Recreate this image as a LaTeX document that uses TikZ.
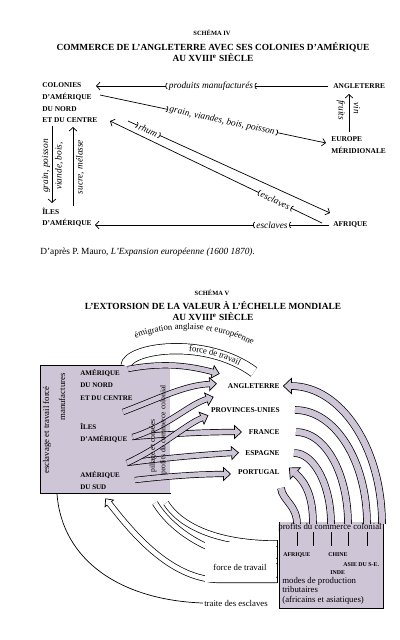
\documentclass[tikz,border=0pt]{standalone}
\usepackage{fontspec}
\setmainfont{Liberation Serif}
\usetikzlibrary{arrows.meta, positioning, calc, decorations.markings, decorations.text}

\definecolor{trame}{RGB}{206,197,214}
\newcommand\capfont{\fontsize{6.3}{10}\selectfont\bfseries}
\newcommand\zonefont{\fontsize{6}{10.6}\selectfont\bfseries}
\newcommand\minifont{\fontsize{5}{6}\selectfont\bfseries}
\newcommand\flowfont{\fontsize{8}{9}\selectfont\itshape}
\newcommand\plainfont{\fontsize{7.5}{8}\selectfont}
\newcommand\narrowfont{\fontsize{6.5}{7}\selectfont}
\newcommand\titlefont{\fontsize{8}{9.4}\selectfont\bfseries}
\newcommand\schemafont{\fontsize{5.5}{6}\selectfont\bfseries}

\tikzset{
  fatarr/.style n args={4}{line width=#2, draw=black,
    postaction={draw=#1, line width=#3},
    postaction={decorate, decoration={markings, mark=at position 1 with {
      \filldraw[fill=#1, draw=black, line width=0.6pt, line join=miter]
        (-0.4pt,-#4) -- (#4,0) -- (-0.4pt,#4) -- cycle;
      \fill[#1] (-1.2pt,{-0.5*#3}) rectangle (0.2pt,{0.5*#3});}}}},
}

\begin{document}
\begin{tikzpicture}[
    x=0.03cm, y=-0.03cm, line width=0.6pt,
    lab/.style={font=\capfont, inner sep=0pt, align=left},
    zlab/.style={font=\zonefont, inner sep=0pt, align=left},
    mini/.style={font=\minifont, inner sep=0pt},
    flw/.style={font=\flowfont, inner sep=1pt},
    plain/.style={font=\plainfont, inner sep=1pt},
    ttl/.style={font=\titlefont, align=center, inner sep=0pt},
    sch/.style={font=\schemafont, inner sep=0pt},
    zone/.style={fill=trame, inner sep=0pt},
    arr/.style={-{Straight Barb[length=3pt,width=6.5pt]}},
    cut/.style={-{Arc Barb[length=1.6pt,width=5.5pt]}},
    goon/.style={{Arc Barb[reversed,length=1.6pt,width=5.5pt]}-{Straight Barb[length=3pt,width=6.5pt]}},
    sarc/.style={fatarr={trame}{6.5pt}{5.3pt}{6.5pt}},
    sfan/.style={fatarr={trame}{5.3pt}{4.1pt}{5.5pt}},
    wfan/.style={fatarr={white}{5.3pt}{4.1pt}{4.6pt}},
    band/.style={fatarr={white}{9.5pt}{8.3pt}{7pt}}
  ]
  \useasboundingbox (0,0) rectangle (400,640);

  % ================= SCHEMA IV =================
  \node[sch] (s4) at (212,33) {SCHÉMA IV};
  \node[ttl] (t4) at (213,52.5) {COMMERCE DE L'ANGLETERRE AVEC SES COLONIES D'AMÉRIQUE\\AU XVIII\textsuperscript{e} SIÈCLE};

  % lieux
  \node[lab, anchor=north west] (col) at (42,82.5) {COLONIES\\D'AMÉRIQUE\\DU NORD\\ET DU CENTRE};
  \node[lab, anchor=west] (ang) at (333,86) {ANGLETERRE};
  \node[lab, anchor=north west] (eur) at (331,136.5) {EUROPE\\MÉRIDIONALE};
  \node[lab, anchor=north west] (iles) at (42,207.5) {ÎLES\\D'AMÉRIQUE};
  \node[lab, anchor=west] (afr) at (333,225) {AFRIQUE};

  % bouts de fleches
  \coordinate (colA) at (96,86);
  \coordinate (gA) at (100,95);
  \coordinate (gB) at (326,143);
  \coordinate (fvA) at (349,132);
  \coordinate (fvB) at (349,94);
  \coordinate (dnA) at (52,126);
  \coordinate (dnB) at (52,203);
  \coordinate (upA) at (73,206);
  \coordinate (upB) at (73,127);
  \coordinate (rA) at (128,121);
  \coordinate (rB) at (330,213);
  \coordinate (eA) at (322,223);
  \coordinate (eB) at (110,121);
  \coordinate (ilA) at (95,225);

  % produits manufactures
  \node[flw] (pm) at (211,86) {produits manufacturés};
  \draw[cut, shorten <=4pt] (ang.west) -- (pm.east);
  \draw[goon] (pm.west) -- (colA);

  % grain, viandes...
  \path (gA) -- (gB) node[flw, sloped, pos=0.54] (gr) {grain, viandes, bois, poisson};
  \draw[cut] (gA) -- (gr.west);
  \draw[goon] (gr.east) -- (gB);

  % fruits, vin
  \draw[arr] (fvA) -- (fvB);
  \node[flw, rotate=-90] (fr) at (341,110) {fruits};
  \node[flw, rotate=-90] (vi) at (357,108) {vin};

  % colonies <-> iles
  \draw[arr] (dnA) -- (dnB);
  \node[flw, rotate=90] (gp) at (46,166) {grain, poisson};
  \node[flw, rotate=90] (vb) at (59,166) {viande, bois,};
  \draw[arr] (upA) -- (upB);
  \node[flw, rotate=90] (sm) at (80,167) {sucre, mélasse};

  % rhum / esclaves
  \path (rA) -- (rB) node[flw, sloped, pos=0.1] (rh) {rhum};
  \draw[cut] (rA) -- (rh.west);
  \draw[goon] (rh.east) -- (rB);
  \path (eA) -- (eB) node[flw, sloped, pos=0.22] (es) {esclaves};
  \draw[cut] (eA) -- (es.east);
  \draw[goon] (es.west) -- (eB);

  \node[flw] (esb) at (272,225) {esclaves};
  \draw[cut, shorten <=3pt] (afr.west) -- (esb.east);
  \draw[goon] (esb.west) -- (ilA);

  \node[anchor=west, inner sep=0pt, font=\fontsize{8}{9}\selectfont] (src) at (40,252)
    {D'après P. Mauro, \textit{L'Expansion européenne (1600 1870).}};

  % ================= SCHEMA V =================
  \node[sch] (s5) at (212,293) {SCHÉMA V};
  \node[ttl] (t5) at (213,311.5) {L'EXTORSION DE LA VALEUR À L'ÉCHELLE MONDIALE\\AU XVIII\textsuperscript{e} SIÈCLE};

  % Amerique
  \node[zone, anchor=north west, minimum width=3.9cm, minimum height=3.84cm] (amer) at (40,365) {};
  \draw (amer.north east) -- (amer.north west) -- (amer.south west) -- (amer.south east);

  % emigration
  \coordinate (emA) at (126,366);
  \coordinate (emB) at (254,372);
  \draw[band] (emA) .. controls (127,348) and (205,336) .. (emB);
  \path[decorate, decoration={text along path, text={|\plainfont|force de travail},
      text align={right, right indent=14pt}, raise=-2pt}]
    (emA) .. controls (127,348) and (205,336) .. (emB);
  \path[decorate, decoration={text along path, text={|\plainfont|émigration anglaise et européenne},
      text align=center}]
    (121,346) .. controls (152,324) and (226,321) .. (266,354);

  % vers l'Europe
  \draw[sfan] (132,437) .. controls (170,434) and (200,432) .. (235,432);
  \draw[sfan] (127,463) .. controls (165,458) and (200,455) .. (232,453);
  \draw[sfan] (135,480) .. controls (170,476) and (200,474) .. (224,474);
  \draw[sfan] (127,463) .. controls (165,445) and (185,425) .. (202,418);
  \draw[sfan] (133,437) .. controls (170,425) and (188,405) .. (207,399);
  \draw[sfan] (123,412) .. controls (160,398) and (185,385) .. (210,384);
  \draw[sfan] (128,369) .. controls (165,362) and (190,366) .. (213,372);

  \node[font=\narrowfont, inner sep=0pt, rotate=90] (pil) at (153,446) {pillage et corvées};
  \node[font=\narrowfont, inner sep=0pt, rotate=90] (pcl) at (163.5,430) {profits du commerce colonial};

  \node[plain, rotate=90] (esc) at (47,430) {esclavage et travail forcé};
  \node[plain, rotate=90] (man) at (62,397) {manufactures};
  \node[zlab, anchor=north west] (nord) at (80,369) {AMÉRIQUE\\DU NORD\\ET DU CENTRE};
  \node[zlab, anchor=north west] (ilv) at (80,423) {ÎLES\\D'AMÉRIQUE};
  \node[zlab, anchor=north west] (sud) at (80,471) {AMÉRIQUE\\DU SUD};

  % pays
  \node[lab, anchor=east] (ang5) at (280,386) {ANGLETERRE};
  \node[lab, anchor=east] (pu5) at (280,410) {PROVINCES-UNIES};
  \node[lab, anchor=east] (fr5) at (280,432) {FRANCE};
  \node[lab, anchor=east] (es5) at (280,453) {ESPAGNE};
  \node[lab, anchor=east] (po5) at (280,472) {PORTUGAL};

  % Afrique Asie
  \node[zone, anchor=north west, minimum width=3.12cm, minimum height=2.58cm] (afas) at (279,522) {};
  \draw (afas.north west) -- (afas.south west) -- (afas.south east) -- (afas.north east);

  \draw[sarc] (382,524) .. controls (382,448) and (341,386) .. (291,386);
  \draw[sarc] (367,524) .. controls (367,461) and (335,410) .. (295,410);
  \draw[sarc] (348,524) .. controls (348,473) and (325,432) .. (296,432);
  \draw[sarc] (331,524) .. controls (331,485) and (314,453) .. (294,453);
  \draw[sarc] (313,524) .. controls (313,495) and (305,482) .. (295,473);
  \draw[sarc] (297,524) .. controls (297,505) and (282,500) .. (281,488);

  \foreach \x in {297,313,331,348,367}
    \draw (\x,532) -- (\x,546);
  \node[plain] (pcc) at (330,527) {profits du commerce colonial};

  \node[mini, anchor=west] (afq) at (283,555) {AFRIQUE};
  \node[mini, anchor=west] (chi) at (328,555) {CHINE};
  \node[mini, anchor=west] (ase) at (343,565) {ASIE DU S-E.};
  \node[mini, anchor=west] (ind) at (330,573) {INDE};
  \node[plain, anchor=north west, align=left, inner sep=0pt] (mdp) at (282,577)
    {modes de production\\tributaires\\(africains et asiatiques)};

  % force de travail, traite
  \draw[wfan] (277,580) -- (220,580) .. controls (170,580) and (131,531) .. (109,503);
  \draw[wfan] (277,561) .. controls (210,561) and (170,528) .. (155,503);
  \draw[wfan] (277,543.5) .. controls (215,543.5) and (180,525) .. (166,503);
  \fill[white] (205,541.5) rectangle (276.4,582.2);
  \draw (277,540) -- (277,583.2);
  \node[plain] (fdt) at (240,567) {force de travail};

  \coordinate (trA) at (57,494);
  \node[plain] (tr) at (236,603) {traite des esclaves};
  \draw (trA) .. controls (62,560) and (120,600) .. (tr.west);
\end{tikzpicture}
\end{document}
